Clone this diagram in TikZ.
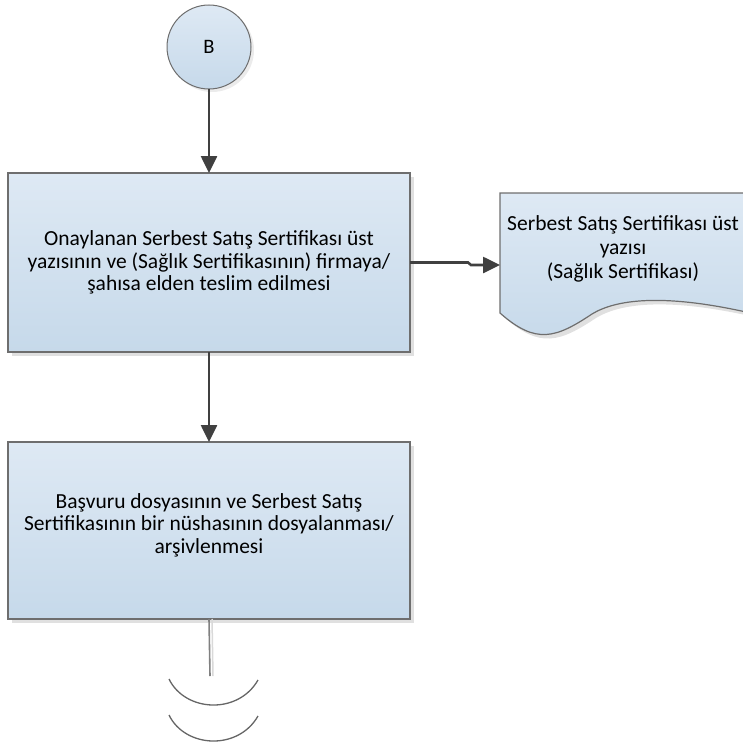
\documentclass[tikz,border=0pt]{standalone}
\usepackage{fontspec}
\setmainfont{Carlito}
\usepackage{tikz}
\usetikzlibrary{arrows.meta,shadows}
\definecolor{boxtop}{RGB}{222,233,244}
\definecolor{boxbottom}{RGB}{198,217,234}
\definecolor{boxline}{RGB}{110,110,110}
\definecolor{arrowgray}{RGB}{64,64,64}
\tikzset{
    process-box/.style = {draw=boxline, line width=1.2pt, top color=boxtop, bottom color=boxbottom, rectangle, minimum width=402pt, minimum height=178pt, inner sep=0pt, outer sep=0pt, align=center, font=\fontsize{21.5}{22.5}\selectfont, drop shadow={shadow xshift=4pt, shadow yshift=-4pt, fill=black!12, opacity=1}},
    connector-circle/.style = {draw=boxline, line width=1pt, top color=boxtop, bottom color=boxbottom, circle, minimum size=84pt, inner sep=0pt, outer sep=0pt, font=\fontsize{20.5}{22}\selectfont, drop shadow={shadow xshift=3pt, shadow yshift=-3pt, fill=black!8, opacity=1}},
    flow-arrow/.style = {draw=arrowgray, line width=2.6pt, -{Triangle[length=17pt,width=16pt]}},
    doc-text/.style = {align=center, font=\fontsize{21.5}{24}\selectfont, inner sep=0pt},
    break-arc/.style = {draw=black!60, line width=1.3pt},
}

\begin{document}
\begin{tikzpicture}[x=1pt, y=-1pt]
\useasboundingbox (0,0) rectangle (743,744);
\clip (0,0) rectangle (743,744);

\node [connector-circle] (B) at (209,47) {B};
\node [process-box, minimum height=179pt] (teslim) at (209,262.5) {Onaylanan Serbest Satış Sertifikası üst\\yazısının ve (Sağlık Sertifikasının) firmaya/\\şahısa elden teslim edilmesi};
\node [process-box, minimum height=177pt] (arsiv) at (209,530.5) {Başvuru dosyasının ve Serbest Satış\\Sertifikasının bir nüshasının dosyalanması/\\arşivlenmesi\\[-8pt]\mbox{}};

% document shape, right side runs off the page
\fill [black!12] (504,197) -- (750,197) -- (750,316) .. controls (664,297) and (619,304) .. (596,318) .. controls (560,342) and (540,349) .. (504,317) -- cycle;
\draw [boxline, line width=1.2pt, top color=boxtop, bottom color=boxbottom] (500,193) -- (746,193) -- (746,312) .. controls (660,293) and (615,300) .. (592,314) .. controls (556,338) and (536,345) .. (500,313) -- cycle;
\node [doc-text] (doc) at (623,249) {Serbest Satış Sertifikası üst\\yazısı\\(Sağlık Sertifikası)};
\coordinate (docin) at (500,265);

\draw [flow-arrow] (B) -- (teslim);
\draw [flow-arrow] (teslim) -- (arsiv);
\draw [flow-arrow] (teslim.east) -- (468,262.5) -- (471,265) -- (docin);

% off-page break
\coordinate (stubend) at (210,676);
\draw [black!15, line width=1.5pt] ([xshift=3pt]arsiv.south) -- ([xshift=3pt]stubend);
\draw [black!50, line width=1.6pt] (arsiv.south) -- (stubend);
\draw [break-arc] (169,679) .. controls (185,712) and (238,715) .. (258,680);
\draw [break-arc] (169,715) .. controls (185,748) and (238,751) .. (258,716);
\end{tikzpicture}
\end{document}
